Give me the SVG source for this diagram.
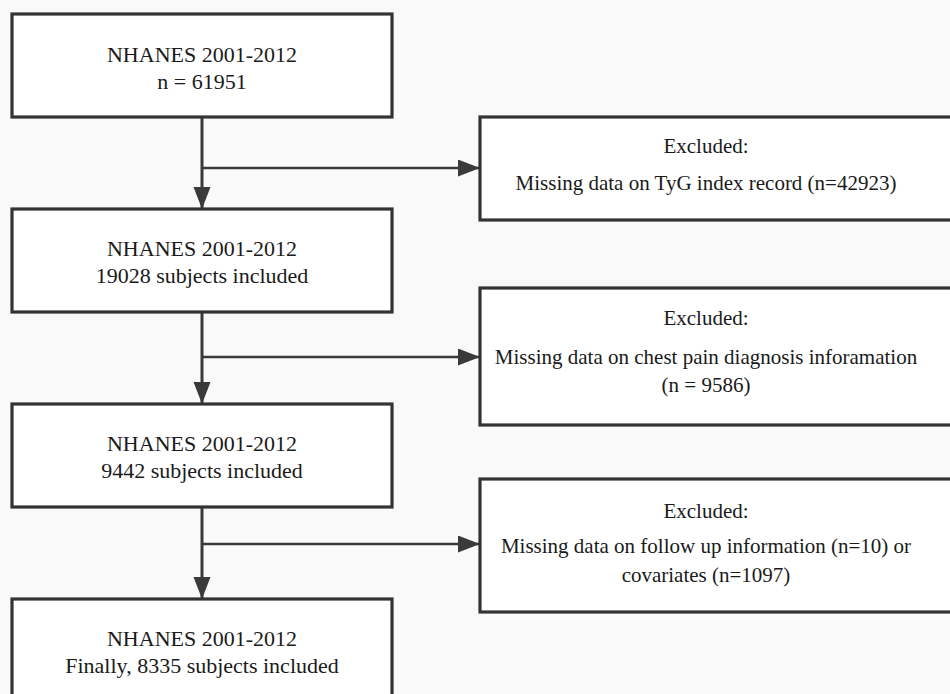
<svg xmlns="http://www.w3.org/2000/svg" width="950" height="694" viewBox="0 0 950 694">
<style>
.box{fill:#ffffff;stroke:#333333;stroke-width:3.2}
.ln{fill:none;stroke:#3a3a3a;stroke-width:3}
.br{fill:none;stroke:#3a3a3a;stroke-width:2.5}
.tl{font-family:'Liberation Serif','DejaVu Serif',serif;font-size:22px;fill:#1a1a1a;text-anchor:middle}
.tr{font-family:'Liberation Serif','DejaVu Serif',serif;font-size:21px;fill:#1a1a1a;text-anchor:middle}
</style>
<defs>
<marker id="ah" markerUnits="userSpaceOnUse" markerWidth="24" markerHeight="18" refX="22" refY="8.5" orient="auto">
<path d="M0,0 L22,8.5 L0,17 Z" fill="#3a3a3a"/>
</marker>
</defs>
<rect x="0" y="0" width="950" height="694" fill="#f9f9f9"/>
<g id="connectors">
<line class="ln" x1="202" y1="117" x2="202" y2="209" marker-end="url(#ah)"/>
<line class="br" x1="202" y1="168" x2="480" y2="168" marker-end="url(#ah)"/>
<line class="ln" x1="202" y1="312" x2="202" y2="404" marker-end="url(#ah)"/>
<line class="br" x1="202" y1="357" x2="480" y2="357" marker-end="url(#ah)"/>
<line class="ln" x1="202" y1="507" x2="202" y2="599" marker-end="url(#ah)"/>
<line class="br" x1="202" y1="544" x2="480" y2="544" marker-end="url(#ah)"/>
</g>
<g id="n1">
<rect class="box" x="12" y="14" width="380" height="103"/>
<text class="tl" x="202" y="62">NHANES 2001-2012</text>
<text class="tl" x="202" y="89">n = 61951</text>
</g>
<g id="n2">
<rect class="box" x="12" y="209" width="380" height="103"/>
<text class="tl" x="202" y="256">NHANES 2001-2012</text>
<text class="tl" x="202" y="283">19028 subjects included</text>
</g>
<g id="n3">
<rect class="box" x="12" y="404" width="380" height="103"/>
<text class="tl" x="202" y="451">NHANES 2001-2012</text>
<text class="tl" x="202" y="478">9442 subjects included</text>
</g>
<g id="n4">
<rect class="box" x="12" y="599" width="380" height="120"/>
<text class="tl" x="202" y="646">NHANES 2001-2012</text>
<text class="tl" x="202" y="673">Finally, 8335 subjects included</text>
</g>
<g id="e1">
<rect class="box" x="480" y="117" width="500" height="103"/>
<text class="tr" x="706" y="153">Excluded:</text>
<text class="tr" x="706" y="190">Missing data on TyG index record (n=42923)</text>
</g>
<g id="e2">
<rect class="box" x="480" y="288" width="500" height="137"/>
<text class="tr" x="706" y="325">Excluded:</text>
<text class="tr" x="706" y="364">Missing data on chest pain diagnosis inforamation</text>
<text class="tr" x="706" y="392">(n = 9586)</text>
</g>
<g id="e3">
<rect class="box" x="480" y="479" width="500" height="133"/>
<text class="tr" x="706" y="518">Excluded:</text>
<text class="tr" x="706" y="553">Missing data on follow up information (n=10) or</text>
<text class="tr" x="706" y="582">covariates (n=1097)</text>
</g>
</svg>
